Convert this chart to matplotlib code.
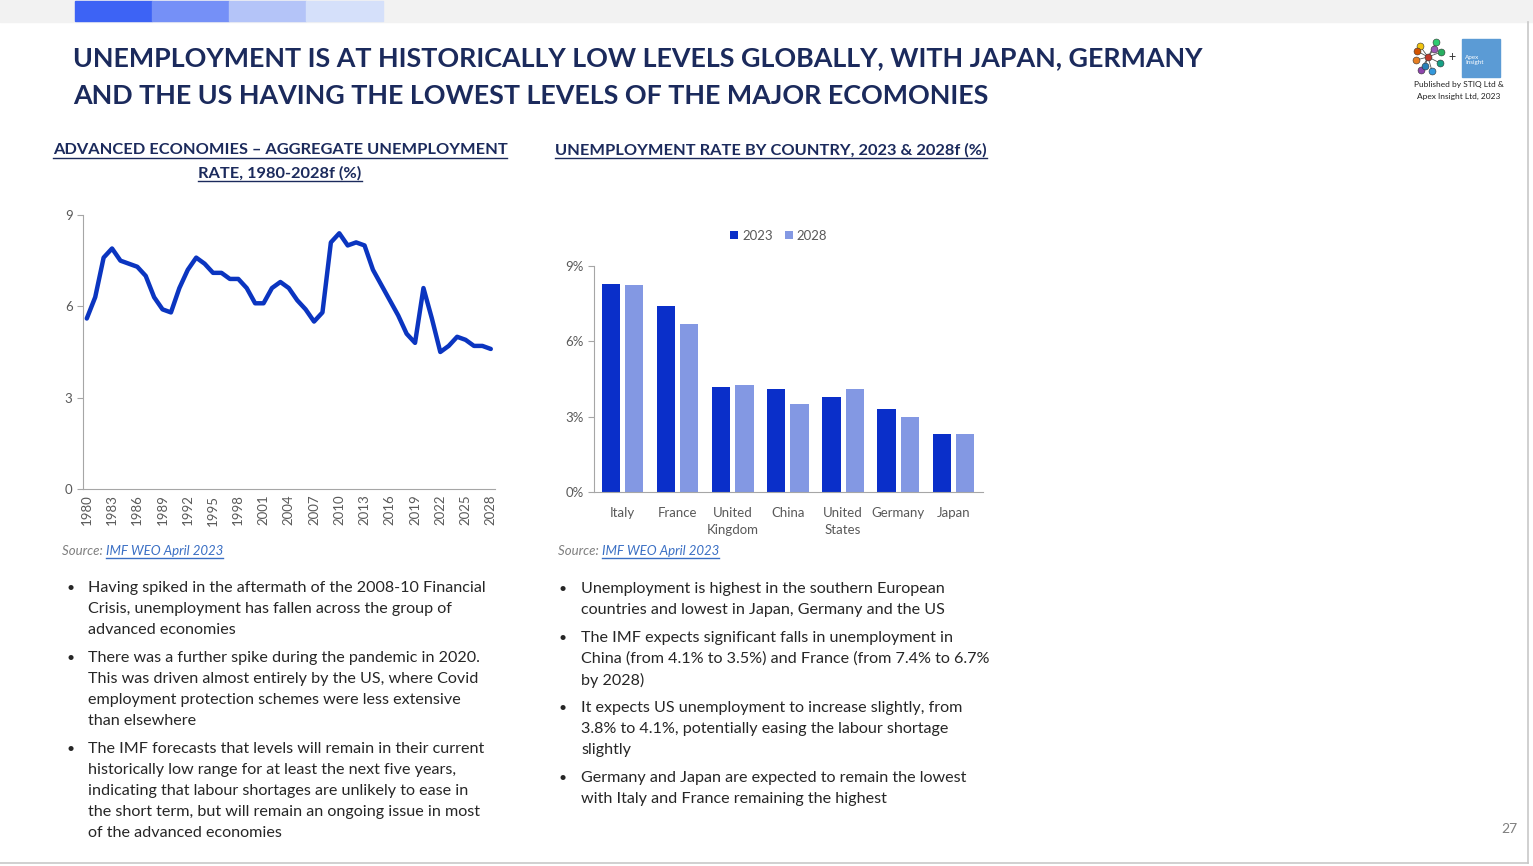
import matplotlib
matplotlib.use("Agg")
import matplotlib.pyplot as plt
from matplotlib.lines import Line2D
from matplotlib.patches import Rectangle
import numpy as np

plt.rcParams['font.family'] = ['Lato', 'DejaVu Sans']

# aggregate unemployment, advanced economies (%)
years = list(range(1980, 2029))
rate = [5.6, 6.3, 7.6, 7.9, 7.5, 7.4, 7.3, 7.0, 6.3, 5.9,
        5.8, 6.6, 7.2, 7.6, 7.4, 7.1, 7.1, 6.9, 6.9, 6.6,
        6.1, 6.1, 6.6, 6.8, 6.6, 6.2, 5.9, 5.5, 5.8, 8.1,
        8.4, 8.0, 8.1, 8.0, 7.2, 6.7, 6.2, 5.7, 5.1, 4.8,
        6.6, 5.6, 4.5, 4.7, 5.0, 4.9, 4.7, 4.7, 4.6]
year_ticks = list(range(1980, 2029, 3))

# unemployment by country (%)
countries = ['Italy', 'France', 'United\nKingdom', 'China', 'United\nStates', 'Germany', 'Japan']
u2023 = [8.3, 7.4, 4.2, 4.1, 3.8, 3.3, 2.3]
u2028 = [8.25, 6.7, 4.25, 3.5, 4.1, 3.0, 2.3]

W, H = 1533, 866
fig = plt.figure(figsize=(W / 100, H / 100), dpi=100)
navy = '#1b2a5c'
text_col = '#262626'
tick_col = '#595959'


def fx(px):
    return px / W


def fy(py):
    return 1 - py / H


# top strip
fig.patches.append(Rectangle((0, fy(22)), 1, 22 / H, transform=fig.transFigure,
                             color='#f2f2f2', zorder=0))
for x0, c in zip([75, 152, 229, 306], ['#3d63f5', '#7590f7', '#b4c4f8', '#d5e0fa']):
    fig.patches.append(Rectangle((fx(x0), fy(21)), 77 / W, 20 / H,
                                 transform=fig.transFigure, color=c, zorder=1))
# page border
fig.add_artist(Line2D([0, fx(1528)], [fy(863), fy(863)], color='#c8c8c8', lw=1.2))
fig.add_artist(Line2D([fx(1528), fx(1528)], [fy(22), fy(863)], color='#c8c8c8', lw=1.2))

# title
fig.text(fx(73), fy(58), 'UNEMPLOYMENT IS AT HISTORICALLY LOW LEVELS GLOBALLY, WITH JAPAN, GERMANY',
         fontsize=19.4, fontweight='bold', color=navy, va='center')
fig.text(fx(73), fy(96), 'AND THE US HAVING THE LOWEST LEVELS OF THE MAJOR ECOMONIES',
         fontsize=19.4, fontweight='bold', color=navy, va='center')

# logo
rng_pts = [(1428, 57, '#c0392b'), (1420, 46, '#f1c40f'), (1436, 42, '#2ecc71'),
           (1441, 52, '#27ae60'), (1440, 63, '#16a085'), (1432, 71, '#3498db'),
           (1421, 70, '#8e44ad'), (1416, 60, '#e67e22'), (1417, 51, '#d35400'),
           (1425, 66, '#2980b9'), (1434, 49, '#9b59b6')]
for (px, py, c) in rng_pts:
    fig.add_artist(Line2D([fx(1428), fx(px)], [fy(57), fy(py)], color='#555555', lw=0.6))
for (px, py, c) in rng_pts:
    fig.add_artist(Line2D([fx(px)], [fy(py)], marker='o', ms=5, color=c, mec='#333333', mew=0.4))
fig.text(fx(1452), fy(57), '+', fontsize=9, color='#333333', ha='center', va='center')
fig.patches.append(Rectangle((fx(1462), fy(77)), 38 / W, 38 / H, transform=fig.transFigure,
                             color='#5b9bd5'))
fig.text(fx(1465), fy(60), 'Apex\nInsight', fontsize=4.5, color='white', va='center',
         linespacing=1.2)
fig.text(fx(1459), fy(85), 'Published by STIQ Ltd &', fontsize=6, color='#222222',
         ha='center', va='center')
fig.text(fx(1459), fy(96), 'Apex Insight Ltd, 2023', fontsize=6, color='#222222',
         ha='center', va='center')

fig.text(fx(1517), fy(829), '27', fontsize=10, color='#7f7f7f', ha='right', va='center')


def underlined(x, y, s, **kw):
    t = fig.text(fx(x), fy(y), s, **kw)
    fig.canvas.draw()
    bb = t.get_window_extent()
    yl = bb.y0 - 1
    fig.add_artist(Line2D([bb.x0 / W, bb.x1 / W], [yl / H, yl / H],
                          color=kw.get('color', 'k'), lw=1.0))
    return t


sub_kw = dict(fontsize=11.75, fontweight='bold', color=navy, ha='center', va='center')
underlined(280, 150, 'ADVANCED ECONOMIES \u2013 AGGREGATE UNEMPLOYMENT', **sub_kw)
underlined(280, 173, 'RATE, 1980-2028f (%)', **sub_kw)
underlined(771, 150, 'UNEMPLOYMENT RATE BY COUNTRY, 2023 & 2028f (%)', **sub_kw)

# line chart
ax1 = fig.add_axes([fx(83), fy(489), (495 - 83) / W, (489 - 215) / H])
ax1.plot(years, rate, color='#0b35c0', lw=3.2, solid_joinstyle='round', solid_capstyle='round')
ax1.set_xlim(1979.55, 2028.5)
ax1.set_ylim(0, 9)
ax1.set_yticks([0, 3, 6, 9])
ax1.set_xticks(year_ticks)
ax1.set_xticklabels([str(y) for y in year_ticks], rotation=90)
for s in ['top', 'right']:
    ax1.spines[s].set_visible(False)
for s in ['left', 'bottom']:
    ax1.spines[s].set_color('#a6a6a6')
ax1.tick_params(axis='both', colors='#a6a6a6', labelcolor=tick_col, labelsize=9.5, length=4)
ax1.tick_params(axis='x', length=0, pad=4)

# bar chart
ax2 = fig.add_axes([fx(594), fy(492), (983 - 594) / W, (492 - 266) / H])
xs = np.arange(len(countries))
bw = 0.33
ax2.bar(xs - 0.21, u2023, bw, color='#0a2fc9', label='2023')
ax2.bar(xs + 0.21, u2028, bw, color='#8398e3', label='2028')
ax2.set_xlim(-0.52, 6.54)
ax2.set_ylim(0, 9)
ax2.set_yticks([0, 3, 6, 9])
ax2.set_yticklabels(['0%', '3%', '6%', '9%'])
ax2.set_xticks(xs)
ax2.set_xticklabels(countries, linespacing=1.45)
for s in ['top', 'right']:
    ax2.spines[s].set_visible(False)
for s in ['left', 'bottom']:
    ax2.spines[s].set_color('#a6a6a6')
ax2.tick_params(axis='both', colors='#a6a6a6', labelcolor=tick_col, labelsize=9.5, length=4)
ax2.tick_params(axis='x', length=0, pad=11)
ax2.legend(loc='lower center', bbox_to_anchor=(0.475, 1.055), ncol=2, frameon=False,
           fontsize=9.5, handlelength=0.6, handleheight=0.6, handletextpad=0.3,
           columnspacing=0.9, labelcolor=tick_col)

# sources
for x0 in [62, 558]:
    t = fig.text(fx(x0), fy(551), 'Source: ', fontsize=9.5, style='italic', color='#7f7f7f',
                 va='center')
    fig.canvas.draw()
    bb = t.get_window_extent()
    underlined(bb.x1, 551, 'IMF WEO April 2023', fontsize=9.5, style='italic',
               color='#3a6fc4', va='center')

left_bullets = [
    ['Having spiked in the aftermath of the 2008-10 Financial',
     'Crisis, unemployment has fallen across the group of',
     'advanced economies'],
    ['There was a further spike during the pandemic in 2020.',
     'This was driven almost entirely by the US, where Covid',
     'employment protection schemes were less extensive',
     'than elsewhere'],
    ['The IMF forecasts that levels will remain in their current',
     'historically low range for at least the next five years,',
     'indicating that labour shortages are unlikely to ease in',
     'the short term, but will remain an ongoing issue in most',
     'of the advanced economies'],
]
right_bullets = [
    ['Unemployment is highest in the southern European',
     'countries and lowest in Japan, Germany and the US'],
    ['The IMF expects significant falls in unemployment in',
     'China (from 4.1% to 3.5%) and France (from 7.4% to 6.7%',
     'by 2028)'],
    ['It expects US unemployment to increase slightly, from',
     '3.8% to 4.1%, potentially easing the labour shortage',
     'slightly'],
    ['Germany and Japan are expected to remain the lowest',
     'with Italy and France remaining the highest'],
]


def bullets(groups, xb, xt, y0):
    y = y0
    for g in groups:
        fig.text(fx(xb), fy(y), '\u2022', fontsize=10, color=text_col, va='center')
        for line in g:
            fig.text(fx(xt), fy(y), line, fontsize=11.6, color=text_col, va='center')
            y += 21
        y += 7


bullets(left_bullets, 66, 88, 588)
bullets(right_bullets, 559, 581, 589)

fig.savefig('out.png', dpi=100, facecolor='white')
